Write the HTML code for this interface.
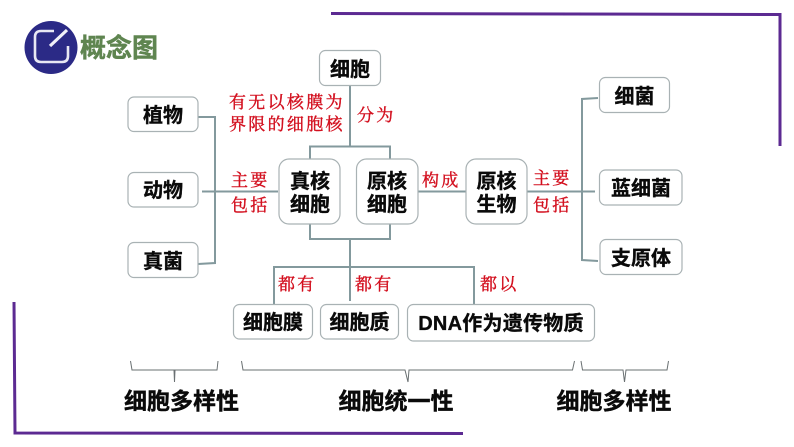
<!DOCTYPE html>
<html lang="zh">
<head>
<meta charset="utf-8">
<style>
html,body{margin:0;padding:0;background:#fff;width:794px;height:447px;overflow:hidden}
svg{display:block}
text{font-family:"Liberation Sans","Noto Sans CJK SC",sans-serif}
.b{font-size:20px;font-weight:700;fill:#0a0a0a;stroke:#0a0a0a;stroke-width:.35;text-anchor:middle}
.r{font-family:"Liberation Serif","Noto Serif CJK SC",serif;font-size:17px;fill:#d3101f;stroke:#d3101f;stroke-width:.4;text-anchor:start;letter-spacing:2.3px}
.h{font-size:23px;font-weight:700;fill:#0a0a0a;stroke:#0a0a0a;stroke-width:.4;text-anchor:middle}
.n{fill:#fff;stroke:#a9b2b4;stroke-width:1.2}
.c{fill:none;stroke:#83999d;stroke-width:2}
.k{fill:none;stroke:#6a7072;stroke-width:1}
.p{fill:none;stroke:#5c2a92;stroke-width:3}
</style>
</head>
<body>
<svg width="794" height="447" viewBox="0 0 794 447" xmlns="http://www.w3.org/2000/svg">
<rect width="794" height="447" fill="#fff"/>

<!-- purple frames -->
<path class="p" d="M331 13.5 L780 14.5 L780 146"/>
<path class="p" d="M14 302 L15 433 L463 433.5"/>

<!-- title icon -->
<circle cx="51" cy="47.5" r="26.5" fill="#2b2a86"/>
<path d="M54 31 H41 Q35 31 35 37 V56 Q35 62 41 62 H62 Q68 62 68 56 V46" fill="none" stroke="#e8e8f4" stroke-width="2.6"/>
<path d="M50 46 L67 30" fill="none" stroke="#f0f0f8" stroke-width="3.2"/>
<text x="119" y="57" font-size="26" font-weight="700" fill="#5f8550" stroke="#5f8550" stroke-width=".5" text-anchor="middle">概念图</text>

<!-- connectors -->
<path class="c" d="M350 85 V146"/>
<path class="c" d="M310 159 V146.500 H390 V159"/>
<path class="c" d="M310 224 V239 H390 V224"/>
<path class="c" d="M350 239 V301"/>
<path class="c" d="M274 304 V267 H474 V304"/>
<path class="c" d="M198 117 H215 V263 L198 264"/>
<path class="c" d="M202 191.500 H278"/>
<path class="c" d="M418 191.500 H466"/>
<path class="c" d="M527 191.500 H595"/>
<path class="c" d="M598 98 L582 99 V260 L598 261"/>

<!-- nodes -->
<rect class="n" x="319.500" y="50.500" width="61" height="35" rx="6"/>
<rect class="n" x="128" y="97" width="70" height="34.500" rx="6"/>
<rect class="n" x="128" y="172.500" width="70" height="34.500" rx="6"/>
<rect class="n" x="128" y="242.500" width="70" height="35" rx="6"/>
<rect class="n" x="279" y="159" width="61" height="65" rx="10"/>
<rect class="n" x="356.500" y="159" width="61.500" height="65" rx="10"/>
<rect class="n" x="466" y="159" width="61" height="65" rx="10"/>
<rect class="n" x="599.500" y="77.500" width="70" height="35" rx="6"/>
<rect class="n" x="599.500" y="170" width="82.500" height="35" rx="6"/>
<rect class="n" x="600" y="239.500" width="82" height="35" rx="6"/>
<rect class="n" x="233.500" y="304.500" width="79" height="34.500" rx="6"/>
<rect class="n" x="320.500" y="304.500" width="78" height="34.500" rx="6"/>
<rect class="n" x="407.500" y="304.500" width="187" height="36.500" rx="6"/>

<!-- node labels -->
<text class="b" x="350" y="76">细胞</text>
<text class="b" x="163" y="122">植物</text>
<text class="b" x="163" y="197">动物</text>
<text class="b" x="163" y="268">真菌</text>
<text class="b" x="310" y="188">真核</text>
<text class="b" x="310" y="211">细胞</text>
<text class="b" x="387" y="188">原核</text>
<text class="b" x="387" y="211">细胞</text>
<text class="b" x="496.500" y="188">原核</text>
<text class="b" x="496.500" y="211">生物</text>
<text class="b" x="634.500" y="103">细菌</text>
<text class="b" x="641" y="195">蓝细菌</text>
<text class="b" x="641" y="265">支原体</text>
<text class="b" x="273" y="329">细胞膜</text>
<text class="b" x="359.500" y="329">细胞质</text>
<text class="b" x="501" y="330" letter-spacing=".25">DNA作为遗传物质</text>

<!-- red labels -->
<text class="r" x="229" y="108">有无以核膜为</text>
<text class="r" x="229" y="130">界限的细胞核</text>
<text class="r" x="357" y="121">分为</text>
<text class="r" x="231" y="186">主要</text>
<text class="r" x="231" y="211">包括</text>
<text class="r" x="422" y="186">构成</text>
<text class="r" x="533" y="184">主要</text>
<text class="r" x="533" y="211">包括</text>
<text class="r" x="278" y="290">都有</text>
<text class="r" x="355" y="290">都有</text>
<text class="r" x="480" y="290">都以</text>

<!-- braces -->
<path class="k" d="M130.500 361 L132 370 H174 L174.500 382 L175 370 H217 L218 361"/>
<path class="k" d="M241.500 361 L243 370 H405 L408 382 L409 370 H572.500 L574.500 361"/>
<path class="k" d="M581 361 L582.500 370 H623 L624.500 382 L626 370 H667 L668.500 361"/>

<!-- bottom labels -->
<text class="h" x="181.500" y="409">细胞多样性</text>
<text class="h" x="396" y="409">细胞统一性</text>
<text class="h" x="614" y="409">细胞多样性</text>
</svg>
</body>
</html>
